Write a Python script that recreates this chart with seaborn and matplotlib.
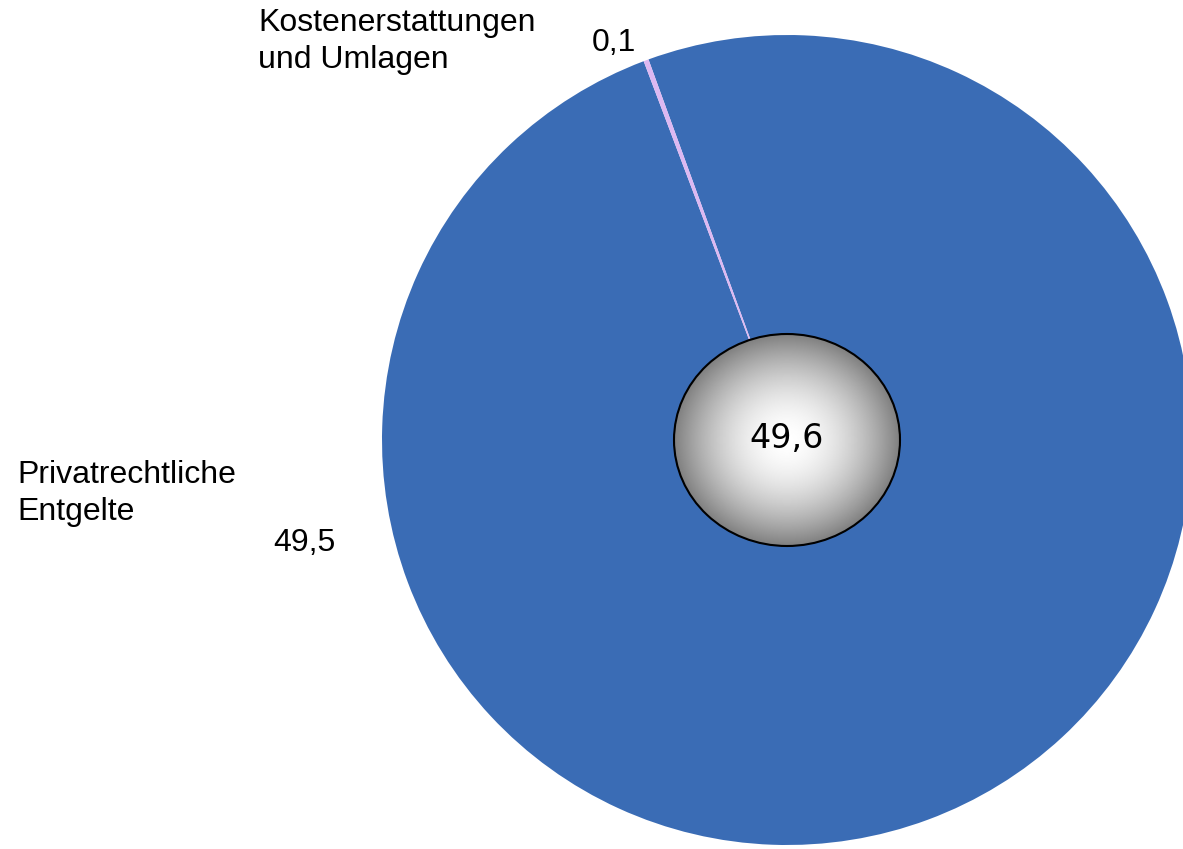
import numpy as np
import matplotlib
matplotlib.use("Agg")
import matplotlib.pyplot as plt
from matplotlib.patches import Ellipse
import seaborn as sns

# Daten (Mrd. Euro)
labels = ["Privatrechtliche\nEntgelte", "Kostenerstattungen\nund Umlagen"]
values = [49.5, 0.1]
value_labels = ["49,5", "0,1"]
total_label = "49,6"
colors = ["#3A6CB5", "#DDB8F2"]

sns.set_theme(style="white")
plt.rcParams['font.family'] = ['Liberation Sans', 'DejaVu Sans']
plt.rcParams['text.color'] = 'black'

W, H = 1183, 849
fig = plt.figure(figsize=(W / 100, H / 100), dpi=100)
ax = fig.add_axes([0, 0, 1, 1])

cx, cy, R = 787, H - 440, 405
ax.pie(values, colors=colors, startangle=110.0, counterclock=False,
       center=(cx, cy), radius=R, wedgeprops=dict(linewidth=0))

# Mittelkreis mit radialem Verlauf
ew, eh = 226, 212
ell = Ellipse((cx, cy), ew, eh, facecolor="none", edgecolor="black", lw=1.5, zorder=5)
ax.add_patch(ell)
gx, gy = np.meshgrid(np.linspace(-1, 1, 300), np.linspace(-1, 1, 300))
r = np.clip(np.sqrt(gx ** 2 + gy ** 2), 0, 1)
v = 1 - 0.5 * r ** 1.8
img = ax.imshow(v, cmap="gray", vmin=0, vmax=1, extent=(cx - ew / 2, cx + ew / 2, cy - eh / 2, cy + eh / 2),
                zorder=4, interpolation="bilinear")
img.set_clip_path(ell)
ax.text(cx, cy + 2, total_label, ha="center", va="center", fontsize=24, family="DejaVu Sans",
        color="black", zorder=6)

# Beschriftungen
ax.text(258, H - 8, labels[1], ha="left", va="top", fontsize=23, linespacing=1.3, color="black")
ax.text(592, H - 28, value_labels[1], ha="left", va="top", fontsize=23, color="black")
ax.text(17, H - 460, labels[0], ha="left", va="top", fontsize=23, linespacing=1.3, color="black")
ax.text(273, H - 528, value_labels[0], ha="left", va="top", fontsize=23, color="black")

ax.set_xlim(0, W)
ax.set_ylim(0, H)
ax.set_aspect("equal")
ax.axis("off")

fig.savefig("out.png", dpi=100)
